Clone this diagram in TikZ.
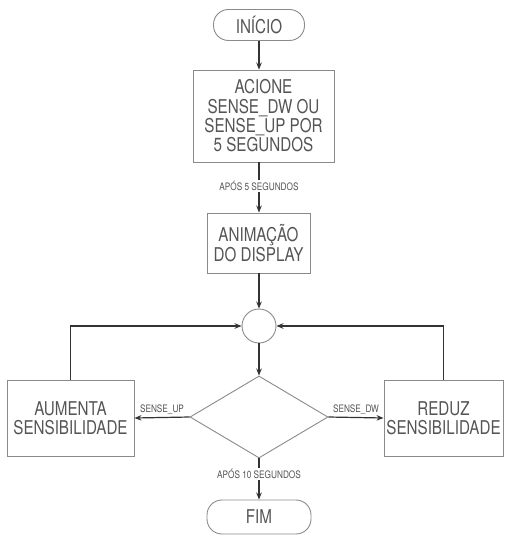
\documentclass[tikz,border=0pt]{standalone}
\usepackage{fontspec}
\setmainfont{TeX Gyre Heros}[FakeStretch=0.8]
\usetikzlibrary{arrows.meta,shapes.geometric}
\definecolor{boxc}{HTML}{8A8A8A}
\definecolor{txtc}{HTML}{555555}
\definecolor{linec}{HTML}{333333}
\begin{document}
\begin{tikzpicture}[x=1pt,y=-1pt,
  boxs/.style={draw=boxc,line width=0.9pt,inner sep=0pt,align=center,text=txtc,
     font=\fontsize{19}{19.3}\selectfont},
  term/.style={boxs,rounded corners=15pt},
  conn/.style={draw=linec,line width=1.2pt,-{Stealth[length=7pt,width=5.5pt]}},
  lbl/.style={text=txtc,font=\fontsize{10.3}{11}\selectfont,inner sep=1pt}]
\useasboundingbox (0,0) rectangle (505,537);
\node[term,minimum width=91pt,minimum height=31pt] (ini) at (259,25) {INÍCIO};
\node[boxs,minimum width=141pt,minimum height=92pt] (b1) at (263.5,116) {ACIONE\\SENSE\_DW OU\\SENSE\_UP POR\\5 SEGUNDOS};
\node[boxs,minimum width=103pt,minimum height=60pt] (b2) at (258.5,243) {ANIMAÇÃO\\DO DISPLAY};
\node[draw=boxc,line width=0.9pt,circle,minimum size=34pt,inner sep=0pt] (c) at (259,326) {};
\node[draw=boxc,line width=0.9pt,diamond,minimum width=138pt,minimum height=82pt,inner sep=0pt] (d) at (259,417) {};
\node[boxs,minimum width=127pt,minimum height=76pt] (l) at (70.5,418) {AUMENTA\\SENSIBILIDADE};
\node[boxs,minimum width=119pt,minimum height=76pt] (r) at (443.5,418) {REDUZ\\SENSIBILIDADE};
\node[term,minimum width=104pt,minimum height=34pt] (fim) at (259,517) {FIM};
\draw[conn] (ini.south) -- (ini.south |- b1.north);
\draw[conn] (b1.south -| ini) -- (b2.north -| ini) node[lbl,pos=0.47,fill=white] {APÓS 5 SEGUNDOS};
\draw[conn] (b2.south -| c) -- (c.north);
\draw[conn] (c.south) -- (d.north);
\draw[conn] (d.west) -- (l.east) node[lbl,midway,above=2pt] {SENSE\_UP};
\draw[conn] (d.east) -- (r.east -| r.west) node[lbl,midway,above=2pt] {SENSE\_DW};
\draw[conn] (l.north) |- (c.west);
\draw[conn] (r.north) |- (c.east);
\draw[conn] (d.south) -- (fim.north) node[lbl,pos=0.38,fill=white] {APÓS 10 SEGUNDOS};
\end{tikzpicture}
\end{document}
